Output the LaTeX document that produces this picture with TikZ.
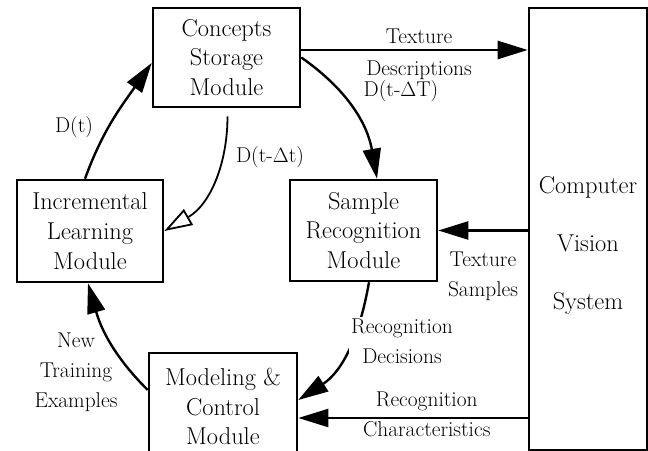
\documentclass[tikz,border=0pt]{standalone}
\usepackage{amsmath}
\usepackage{tikz}
\usetikzlibrary{arrows.meta,positioning}
\tikzstyle{module} = [rectangle, draw, line width=2.6bp, minimum width=147bp, minimum height=100bp, align=center, inner sep=0pt, font=\fontsize{24.5}{30}\selectfont]
\tikzstyle{arrow} = [line width=2.4bp, -{Triangle[length=30bp,width=18bp]}]
\tikzstyle{edgetext} = [inner sep=2bp, align=center, font=\fontsize{21.5}{30}\selectfont]

\begin{document}
\begin{tikzpicture}[x=1bp,y=1bp]
\useasboundingbox (0,0) rectangle (648,451);

% Modules
\node (cs) [module, minimum height=99bp] at (226.5,393.5) {Concepts\\Storage\\Module};
\node (il) [module, minimum width=146bp, minimum height=102bp] at (90,220) {Incremental\\Learning\\Module};
\node (sr) [module, minimum height=101bp] at (363.5,220.5) {Sample\\Recognition\\Module};
\node (mc) [module, minimum width=148bp, minimum height=107bp] at (223,44.5) {Modeling \&\\Control\\Module};

% Computer vision system
\node (cvs) [module, minimum width=118bp, minimum height=442bp] at (588,222) {};
\node (cvstext) [align=center, font=\fontsize{24.5}{58.5}\selectfont] at (588,205.5) {Computer\\Vision\\System};

% Straight arrows
\draw[arrow] ([yshift=7.5bp]cs.east) -- ([yshift=7.5bp]cs.east -| cvs.west)
  node (texdesca) [edgetext, pos=0.52, above=3bp] {Texture}
  node (texdescb) [edgetext, pos=0.52, below=7.3bp] {Descriptions};
\draw[arrow] (cvs.west |- sr.east) -- (sr.east)
  node (texsamp) [edgetext, midway, below=18.3bp] {Texture\\Samples};
\draw[arrow] ([yshift=-11.5bp]mc.east -| cvs.west) -- ([yshift=-11.5bp]mc.east)
  node (recchara) [edgetext, pos=0.44, above=3.8bp] {Recognition}
  node (reccharb) [edgetext, pos=0.44, below=0bp] {Characteristics};

% Curved arrows
\draw[arrow] ([xshift=-5bp]il.north) to[out=70, in=235] ([yshift=-5.5bp]cs.west);
\node (dt) [edgetext] at (74,324) {D(t)};

\draw[arrow] (cs.east) to[out=-35, in=100] ([xshift=13.5bp]sr.north);
\node (dtbig) [edgetext] at (401,360) {D(t-$\Delta$T)};

\draw[line width=1.8bp, shorten <=8bp, -{Triangle[open,length=28bp,width=18bp]}] ([xshift=1bp]cs.south) to[out=270, in=30] (il.east);
\node (dtsmall) [edgetext] at (270,294) {D(t-$\Delta$t)};

\draw[arrow] ([xshift=5.5bp]sr.south) to[out=260, in=33] ([yshift=6.5bp]mc.east);
\node (recdec) [edgetext, fill=white] at (402,110) {Recognition\\Decisions};

\draw[arrow] ([yshift=16.5bp]mc.west) to[out=135, in=286] ([xshift=-2bp]il.south);
\node (newtrain) [edgetext] at (76,79) {New\\Training\\Examples};
\end{tikzpicture}
\end{document}
